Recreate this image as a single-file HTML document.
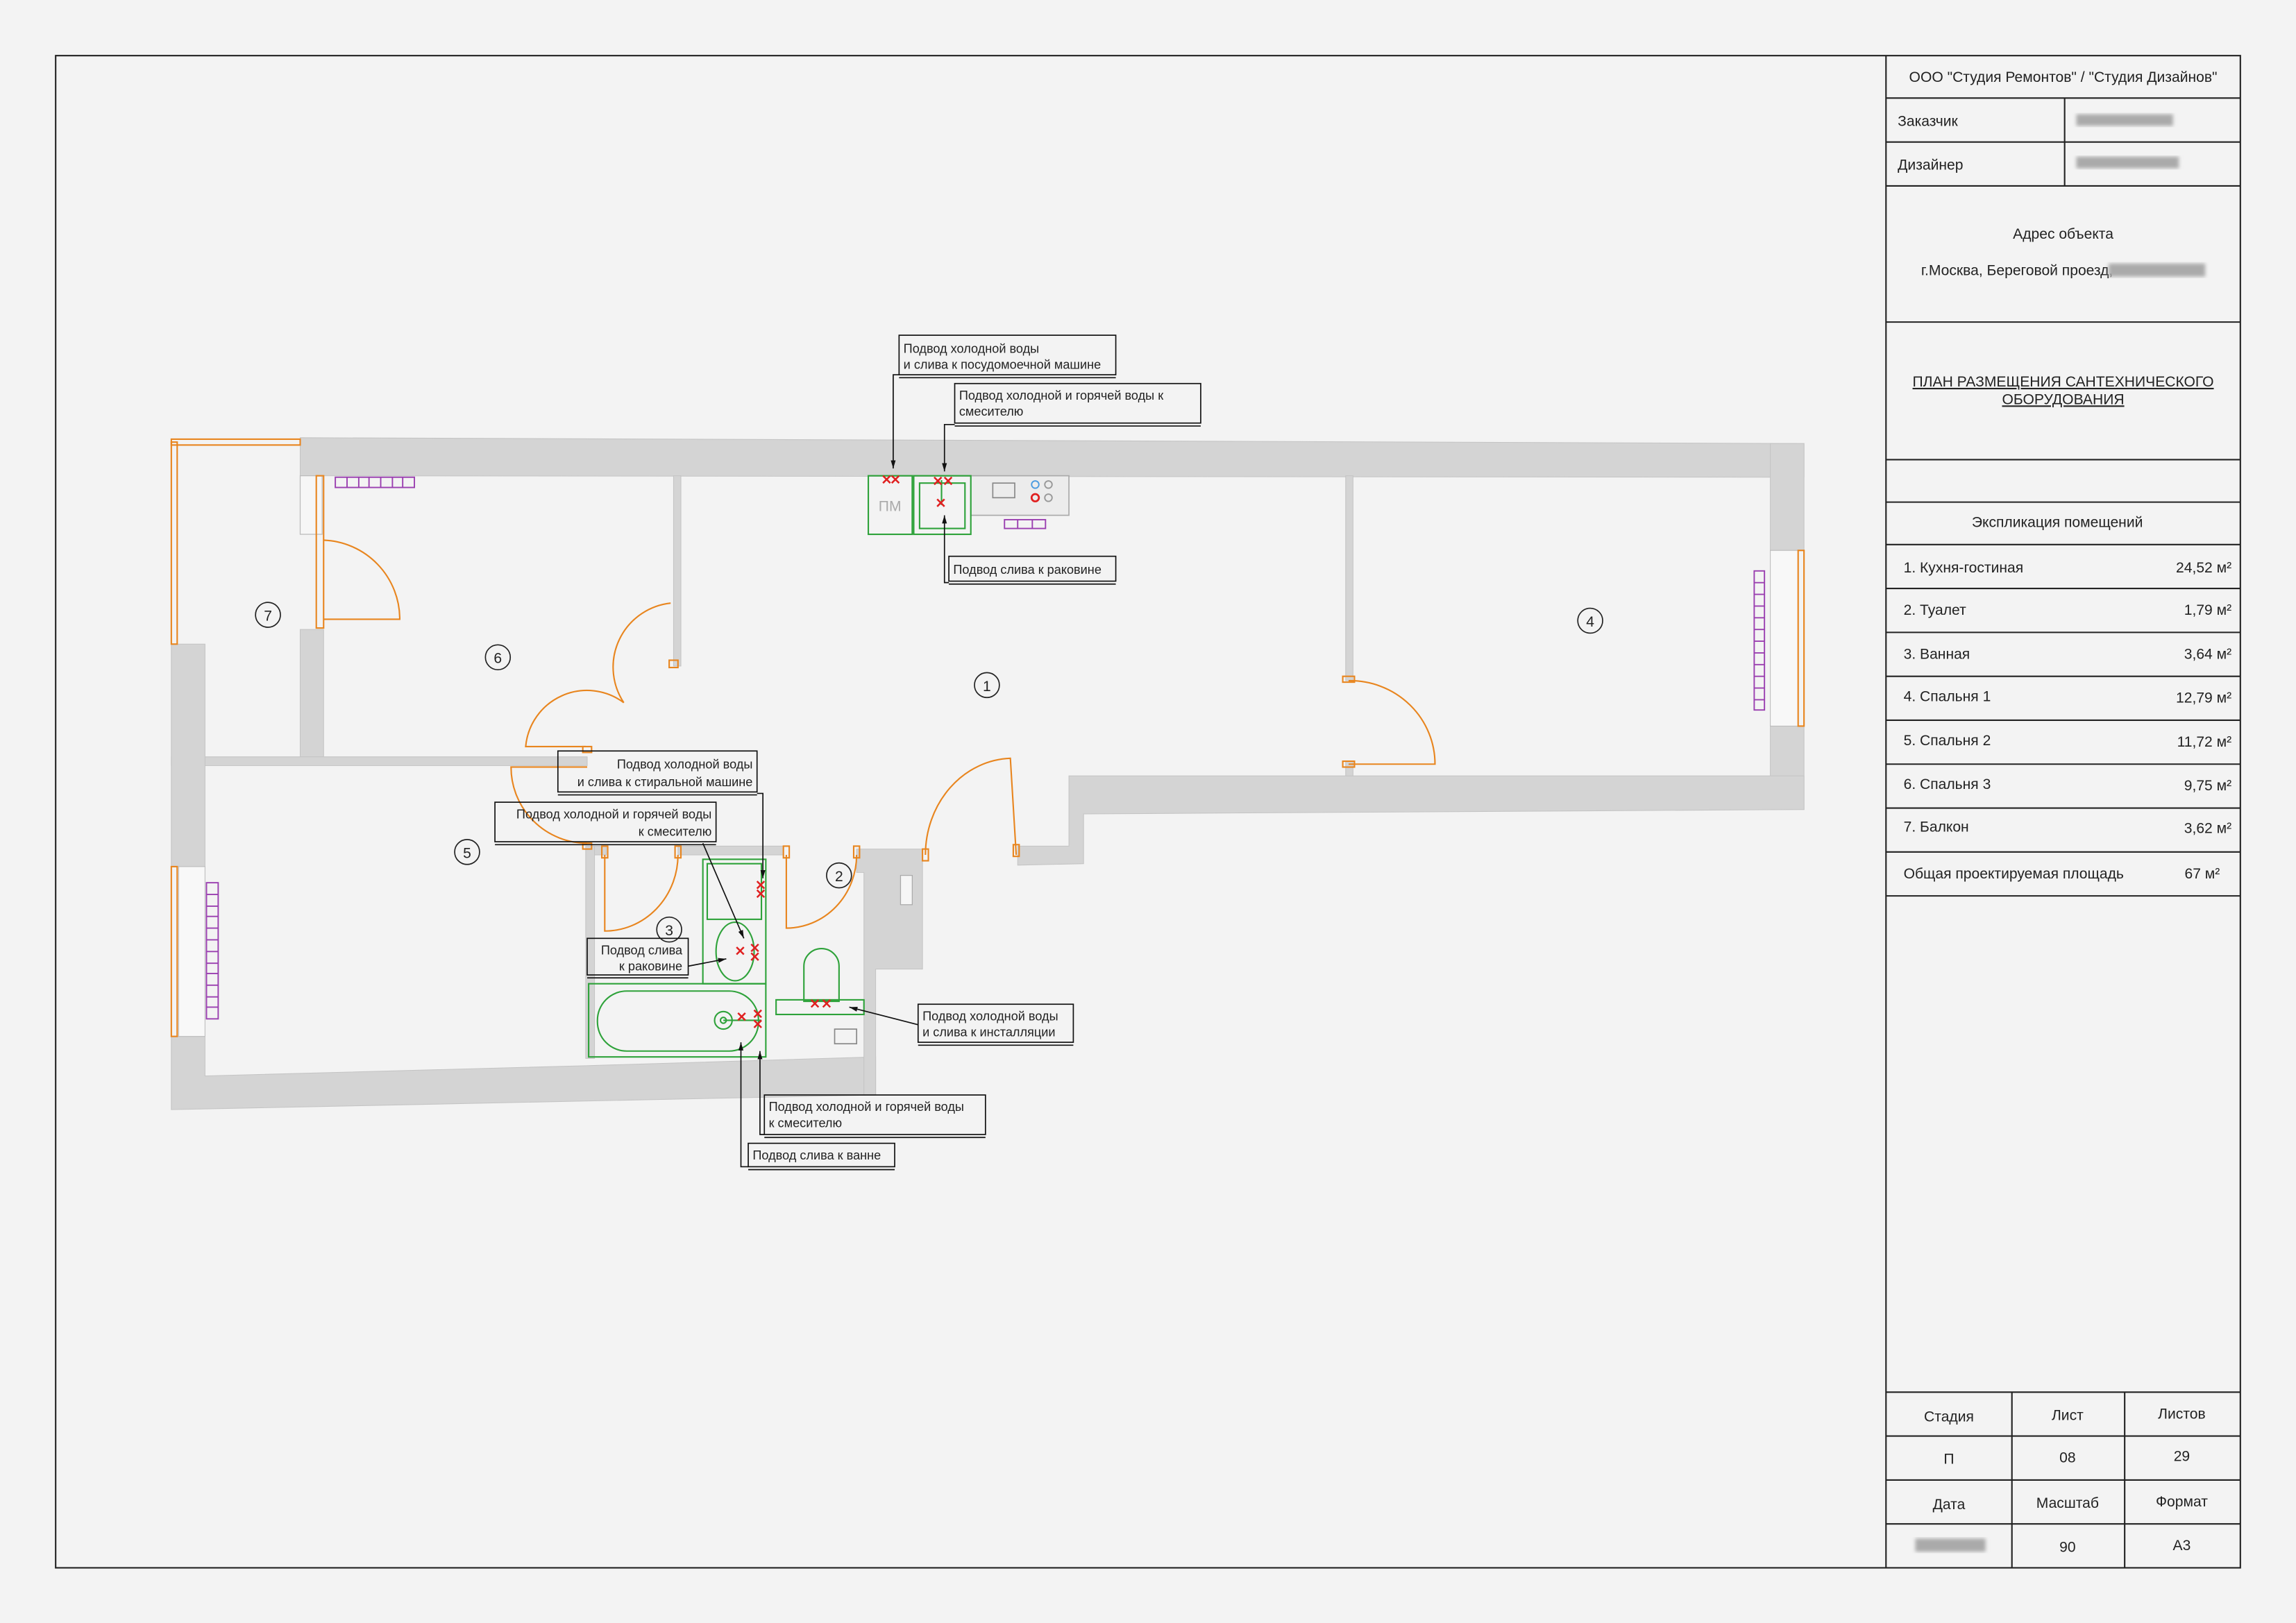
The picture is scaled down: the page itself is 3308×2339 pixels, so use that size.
<!DOCTYPE html>
<html><head><meta charset="utf-8"><style>
html,body{margin:0;padding:0;background:#f3f3f3}
svg{display:block}
text{font-family:"Liberation Sans Narrow","Liberation Sans","DejaVu Sans Condensed",sans-serif;fill:#222}
.t{font-size:10px}
.s{font-size:8.6px}
.b{fill:none;stroke:#222;stroke-width:1}
.w{fill:#d4d4d4;stroke:#c4c4c4;stroke-width:.5}
.o{fill:none;stroke:#e8851e;stroke-width:1}
.g{fill:none;stroke:#2ea23a;stroke-width:1}
.p{fill:none;stroke:#9a3fb0;stroke-width:.9}
.r{stroke:#e02020;stroke-width:1.2}
.l{fill:none;stroke:#111;stroke-width:.8}
.bl{fill:#aaa;filter:url(#bl)}
</style></head><body>
<svg width="3308" height="2339" viewBox="0 0 1568 1108.7" xmlns="http://www.w3.org/2000/svg">
<defs>
<filter id="bl"><feGaussianBlur stdDeviation="1.2"/></filter>
<marker id="a" viewBox="0 0 10 10" refX="10" refY="5" markerWidth="7" markerHeight="7" orient="auto"><path d="M0,2 L10,5 L0,8z" fill="#111"/></marker>
</defs>
<rect x="0" y="0" width="1568" height="1109" fill="#f3f3f3"/>
<rect x="38" y="38" width="1492" height="1033" class="b"/>
<line x1="1288" y1="38" x2="1288" y2="1071" class="b"/>
<g class="b">
<line x1="1288" y1="67" x2="1530" y2="67"/><line x1="1288" y1="97" x2="1530" y2="97"/>
<line x1="1288" y1="127" x2="1530" y2="127"/><line x1="1410" y1="67" x2="1410" y2="127"/>
<line x1="1288" y1="220" x2="1530" y2="220"/><line x1="1288" y1="314" x2="1530" y2="314"/>
<line x1="1288" y1="343" x2="1530" y2="343"/><line x1="1288" y1="372" x2="1530" y2="372"/>
<line x1="1288" y1="402" x2="1530" y2="402"/><line x1="1288" y1="432" x2="1530" y2="432"/>
<line x1="1288" y1="462" x2="1530" y2="462"/><line x1="1288" y1="492" x2="1530" y2="492"/>
<line x1="1288" y1="522" x2="1530" y2="522"/><line x1="1288" y1="552" x2="1530" y2="552"/>
<line x1="1288" y1="582" x2="1530" y2="582"/><line x1="1288" y1="612" x2="1530" y2="612"/>
<line x1="1288" y1="951" x2="1530" y2="951"/><line x1="1288" y1="981" x2="1530" y2="981"/>
<line x1="1288" y1="1011" x2="1530" y2="1011"/><line x1="1288" y1="1041" x2="1530" y2="1041"/>
<line x1="1374" y1="951" x2="1374" y2="1071"/><line x1="1451" y1="951" x2="1451" y2="1071"/>
</g>
<g class="t">
<text x="1409" y="56" text-anchor="middle">ООО "Студия Ремонтов" / "Студия Дизайнов"</text>
<text x="1296" y="86">Заказчик</text><text x="1296" y="116">Дизайнер</text>
<rect x="1418" y="78" width="66" height="8" class="bl"/><rect x="1418" y="107" width="70" height="8" class="bl"/>
<text x="1409" y="163" text-anchor="middle">Адрес объекта</text>
<text x="1312" y="188">г.Москва, Береговой проезд,</text><rect x="1440" y="180" width="66" height="9" class="bl"/>
<text x="1409" y="264" text-anchor="middle" text-decoration="underline">ПЛАН РАЗМЕЩЕНИЯ САНТЕХНИЧЕСКОГО</text>
<text x="1409" y="276" text-anchor="middle" text-decoration="underline">ОБОРУДОВАНИЯ</text>
<text x="1405" y="360" text-anchor="middle">Экспликация помещений</text>
<text x="1300" y="391">1. Кухня-гостиная</text><text x="1524" y="391" text-anchor="end">24,52 м²</text>
<text x="1300" y="420">2. Туалет</text><text x="1524" y="420" text-anchor="end">1,79 м²</text>
<text x="1300" y="450">3. Ванная</text><text x="1524" y="450" text-anchor="end">3,64 м²</text>
<text x="1300" y="479">4. Спальня 1</text><text x="1524" y="480" text-anchor="end">12,79 м²</text>
<text x="1300" y="509">5. Спальня 2</text><text x="1524" y="510" text-anchor="end">11,72 м²</text>
<text x="1300" y="539">6. Спальня 3</text><text x="1524" y="540" text-anchor="end">9,75 м²</text>
<text x="1300" y="568">7. Балкон</text><text x="1524" y="569" text-anchor="end">3,62 м²</text>
<text x="1300" y="600">Общая проектируемая площадь</text><text x="1516" y="600" text-anchor="end">67 м²</text>
<text x="1331" y="971" text-anchor="middle">Стадия</text><text x="1412" y="970" text-anchor="middle">Лист</text><text x="1490" y="969" text-anchor="middle">Листов</text>
<text x="1331" y="1000" text-anchor="middle">П</text><text x="1412" y="999" text-anchor="middle">08</text><text x="1490" y="998" text-anchor="middle">29</text>
<text x="1331" y="1031" text-anchor="middle">Дата</text><text x="1412" y="1030" text-anchor="middle">Масштаб</text><text x="1490" y="1029" text-anchor="middle">Формат</text>
<rect x="1308" y="1051" width="48" height="9" class="bl"/><text x="1412" y="1060" text-anchor="middle">90</text><text x="1490" y="1059" text-anchor="middle">А3</text>
</g>
<g class="w">
<polygon points="205,299 1232,303 1232,326 1209,326 205,325"/>
<rect x="1209" y="303" width="23" height="73"/>
<rect x="1209" y="496" width="23" height="57"/>
<polygon points="730,530 1232,530 1232,553 740,556 740,590 695,591 695,578 730,578"/>
<rect x="460" y="325" width="5" height="130"/>
<rect x="919" y="325" width="5" height="140"/>
<rect x="919" y="520" width="5" height="10"/>
<rect x="205" y="430" width="16" height="90"/>
<rect x="117" y="517" width="284" height="6"/>
<rect x="117" y="440" width="23" height="152"/>
<polygon points="117,708 140,708 140,735 400,728 598,722 598,748 117,758"/>
<rect x="400" y="578" width="6" height="145"/>
<rect x="406" y="578" width="8" height="6"/>
<rect x="463" y="578" width="72" height="6"/>
<polygon points="585,580 630,580 630,662 598,662 598,748 590,748 590,596 585,596"/>
</g>
<rect x="205" y="325" width="15" height="40" fill="#f6f6f6" stroke="#bbb" stroke-width=".6"/>
<rect x="615" y="598" width="8" height="20" fill="#f6f6f6" stroke="#aaa" stroke-width=".6"/>
<rect x="1209" y="376" width="19" height="120" fill="#f8f8f8" stroke="#bbb" stroke-width=".5"/>
<rect x="122" y="592" width="18" height="116" fill="#f8f8f8" stroke="#bbb" stroke-width=".5"/>
<g class="o">
<rect x="117" y="302" width="4" height="138"/><rect x="117" y="300" width="88" height="4"/>
<rect x="216" y="325" width="5" height="104"/>
<rect x="117" y="592" width="4" height="116"/>
<rect x="1228" y="376" width="4" height="120"/>
<path d="M221,423 H273 A54,54 0 0 0 221,369"/>
<path d="M458,412 A44,44 0 0 0 426,480"/>
<path d="M400,510 H359 A42,42 0 0 1 426,480"/>
<path d="M401,524 L349,524 A52,52 0 0 0 401,576"/>
<path d="M413,584 V636 A50,52 0 0 0 463,584"/>
<path d="M537,584 V634 A48,50 0 0 0 585,584"/>
<path d="M632,584 A60,66 0 0 1 690,518 L694,584"/>
<path d="M921,465 A58,57 0 0 1 980,522 H921"/>
<rect x="398" y="510" width="6" height="4"/><rect x="398" y="576" width="6" height="4"/>
<rect x="411" y="578" width="4" height="8"/><rect x="461" y="578" width="4" height="8"/>
<rect x="535" y="578" width="4" height="8"/><rect x="583" y="578" width="4" height="8"/>
<rect x="630" y="580" width="4" height="8"/><rect x="692" y="577" width="4" height="8"/>
<rect x="917" y="462" width="8" height="4"/><rect x="917" y="520" width="8" height="4"/>
<rect x="457" y="451" width="6" height="5"/>
</g>
<g class="p">
<rect x="229" y="326" width="54" height="7"/>
<path d="M237,326V333M245,326V333M252,326V333M260,326V333M268,326V333M275,326V333"/>
<rect x="141" y="603" width="8" height="93"/>
<path d="M141,611H149M141,619H149M141,626H149M141,634H149M141,642H149M141,650H149M141,658H149M141,665H149M141,673H149M141,681H149M141,688H149"/>
<rect x="1198" y="390" width="7" height="95"/>
<path d="M1198,398H1205M1198,406H1205M1198,414H1205M1198,422H1205M1198,430H1205M1198,438H1205M1198,446H1205M1198,454H1205M1198,462H1205M1198,470H1205M1198,478H1205"/>
<rect x="686" y="355" width="28" height="6"/><path d="M695,355V361M705,355V361"/>
</g>
<rect x="663" y="325" width="67" height="27" fill="#ececec" stroke="#aaa" stroke-width=".8"/>
<rect x="678" y="330" width="15" height="10" fill="none" stroke="#888" stroke-width=".8"/>
<circle cx="707" cy="331" r="2.5" fill="none" stroke="#4a9be0" stroke-width=".9"/>
<circle cx="716" cy="331" r="2.5" fill="none" stroke="#999" stroke-width=".9"/>
<circle cx="707" cy="340" r="2.5" fill="none" stroke="#e02020" stroke-width="1.3"/>
<circle cx="716" cy="340" r="2.5" fill="none" stroke="#999" stroke-width=".9"/>
<g class="g">
<rect x="593" y="325" width="30" height="40"/>
<rect x="624" y="325" width="39" height="40"/><rect x="628" y="330" width="31" height="31"/>
<line x1="643" y1="328" x2="643" y2="345"/>
<rect x="480" y="587" width="43" height="85"/><rect x="483" y="590" width="37" height="38"/>
<ellipse cx="502" cy="650" rx="13" ry="20"/>
<rect x="402" y="672" width="121" height="50"/>
<rect x="408" y="677" width="110" height="41" rx="20"/>
<circle cx="494" cy="697" r="6"/><circle cx="494" cy="697" r="2"/>
<line x1="494" y1="697" x2="520" y2="697"/>
<path d="M549,684 V660 A12,12 0 0 1 573,660 V684 Z"/>
<rect x="530" y="683" width="60" height="10"/>
</g>
<rect x="570" y="703" width="15" height="10" fill="none" stroke="#888" stroke-width=".8"/>
<text x="600" y="349" style="font-size:10px;fill:#aaa">ПМ</text>
<g class="r">
<path d="M603,325l5,5M608,325l-5,5M609,325l5,5M614,325l-5,5"/>
<path d="M638,326l5,5M643,326l-5,5M645,326l5,5M650,326l-5,5"/>
<path d="M640,341l5,5M645,341l-5,5"/>
<path d="M517,602l5,5M522,602l-5,5M517,608l5,5M522,608l-5,5"/>
<path d="M503,647l5,5M508,647l-5,5M513,645l5,5M518,645l-5,5M513,651l5,5M518,651l-5,5"/>
<path d="M504,692l5,5M509,692l-5,5M515,690l5,5M520,690l-5,5M515,697l5,5M520,697l-5,5"/>
<path d="M554,683l5,5M559,683l-5,5M562,683l5,5M567,683l-5,5"/>
</g>
<g fill="none" stroke="#222" stroke-width=".8">
<circle cx="183" cy="420" r="8.5"/><circle cx="340" cy="449" r="8.5"/><circle cx="674" cy="468" r="8.5"/>
<circle cx="1086" cy="424" r="8.5"/><circle cx="319" cy="582" r="8.5"/><circle cx="573" cy="598" r="8.5"/><circle cx="457" cy="635" r="8.5"/>
</g>
<g class="t" text-anchor="middle">
<text x="183" y="424">7</text><text x="340" y="453">6</text><text x="674" y="472">1</text>
<text x="1086" y="428">4</text><text x="319" y="586">5</text><text x="573" y="602">2</text><text x="457" y="639">3</text>
</g>
<g class="l">
<rect x="614" y="229" width="148" height="27"/><line x1="614" y1="258" x2="762" y2="258"/>
<rect x="652" y="262" width="168" height="27"/><line x1="652" y1="291" x2="820" y2="291"/>
<rect x="648" y="380" width="114" height="17"/><line x1="648" y1="399" x2="762" y2="399"/>
<rect x="381" y="513" width="136" height="28"/><line x1="381" y1="543" x2="517" y2="543"/>
<rect x="338" y="548" width="151" height="27"/><line x1="338" y1="577" x2="489" y2="577"/>
<rect x="401" y="641" width="69" height="25"/><line x1="401" y1="668" x2="470" y2="668"/>
<rect x="627" y="686" width="106" height="26"/><line x1="627" y1="714" x2="733" y2="714"/>
<rect x="522" y="748" width="151" height="27"/><line x1="522" y1="777" x2="673" y2="777"/>
<rect x="511" y="781" width="100" height="16"/><line x1="511" y1="799" x2="611" y2="799"/>
<path d="M614,256 H610 V320" marker-end="url(#a)"/>
<path d="M652,290 H645 V322" marker-end="url(#a)"/>
<path d="M648,398 H645 V352" marker-end="url(#a)"/>
<path d="M517,542 H521 V600" marker-end="url(#a)"/>
<path d="M480,576 L508,641" marker-end="url(#a)"/>
<path d="M470,660 L496,655" marker-end="url(#a)"/>
<path d="M627,700 L580,688" marker-end="url(#a)"/>
<path d="M522,775 H519 V718" marker-end="url(#a)"/>
<path d="M511,797 H506 V712" marker-end="url(#a)"/>
</g>
<g class="s">
<text x="617" y="241">Подвод холодной воды</text><text x="617" y="252">и слива к посудомоечной машине</text>
<text x="655" y="273">Подвод холодной и горячей воды к</text><text x="655" y="284">смесителю</text>
<text x="651" y="392">Подвод слива к раковине</text>
<text x="514" y="525" text-anchor="end">Подвод холодной воды</text><text x="514" y="537" text-anchor="end">и слива к стиральной машине</text>
<text x="486" y="559" text-anchor="end">Подвод холодной и горячей воды</text><text x="486" y="571" text-anchor="end">к смесителю</text>
<text x="466" y="652" text-anchor="end">Подвод слива</text><text x="466" y="663" text-anchor="end">к раковине</text>
<text x="630" y="697">Подвод холодной воды</text><text x="630" y="708">и слива к инсталляции</text>
<text x="525" y="759">Подвод холодной и горячей воды</text><text x="525" y="770">к смесителю</text>
<text x="514" y="792">Подвод слива к ванне</text>
</g>
</svg>
</body></html>
